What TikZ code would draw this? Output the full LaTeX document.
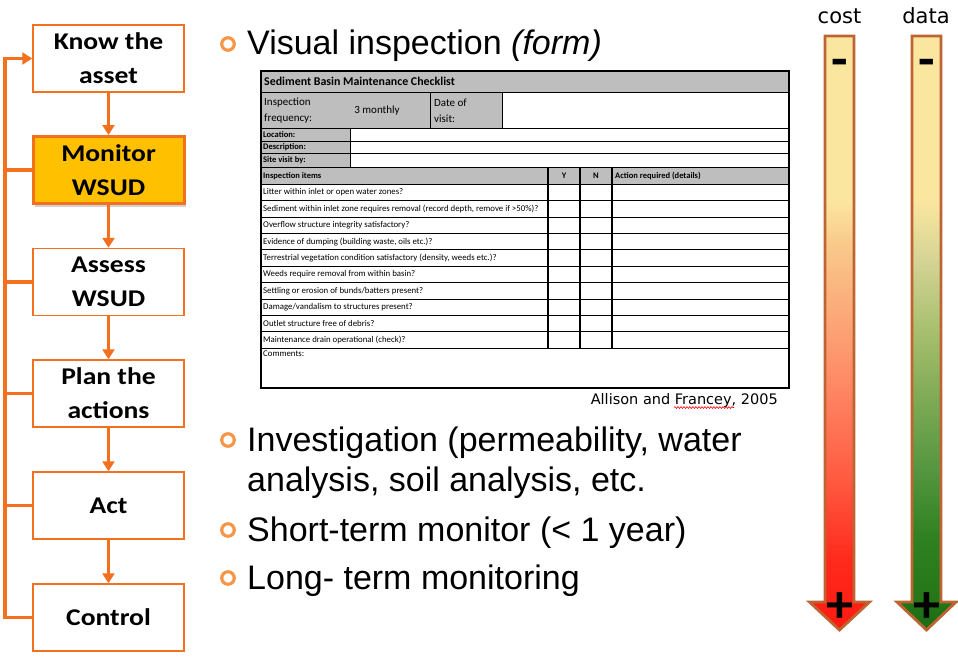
\documentclass[tikz,border=0pt]{standalone}
\usepackage{fontspec}
\setmainfont{Liberation Sans}
\newfontfamily\boxfont[FakeStretch=1.15]{Carlito}
\newfontfamily\tabfont{Carlito}
\newfontfamily\vfont{DejaVu Sans}
\usetikzlibrary{arrows.meta,shadows,decorations.pathmorphing}

\definecolor{flowor}{RGB}{242,112,30}
\definecolor{monfill}{RGB}{255,192,0}
\definecolor{bulor}{RGB}{247,150,70}
\definecolor{tblgray}{RGB}{190,190,190}
\definecolor{barline}{RGB}{190,100,50}
\definecolor{cR}{RGB}{255,26,16}
\definecolor{cR2}{RGB}{255,42,28}
\definecolor{cR3}{RGB}{255,90,64}
\definecolor{cSal}{RGB}{255,129,96}
\definecolor{cOr}{RGB}{252,166,120}
\definecolor{cPea}{RGB}{249,201,138}
\definecolor{cYel}{RGB}{251,230,160}
\definecolor{gA}{RGB}{26,107,18}
\definecolor{gB}{RGB}{36,118,24}
\definecolor{gC}{RGB}{46,128,32}
\definecolor{gD}{RGB}{85,150,64}
\definecolor{gE}{RGB}{126,170,85}
\definecolor{gF}{RGB}{168,192,112}
\definecolor{gG}{RGB}{212,212,148}

\pgfdeclareverticalshading{costsh}{100bp}{color(0bp)=(cR); color(25bp)=(cR); color(30.9bp)=(cR2); color(37.6bp)=(cR3); color(44.4bp)=(cSal); color(51.1bp)=(cOr); color(57.4bp)=(cPea); color(61.2bp)=(cYel); color(100bp)=(cYel)}
\pgfdeclareverticalshading{datash}{100bp}{color(0bp)=(gA); color(25bp)=(gA); color(27.5bp)=(gB); color(32.6bp)=(gC); color(38.5bp)=(gD); color(44.4bp)=(gE); color(50.3bp)=(gF); color(56.1bp)=(gG); color(61.2bp)=(cYel); color(100bp)=(cYel)}

\begin{document}
\begin{tikzpicture}[x=1pt,y=-1pt,
  flowbox/.style={draw=flowor, line width=1.5pt, fill=white, minimum width=151pt, minimum height=67pt,
    inner sep=0pt, align=center, font=\boxfont\bfseries\fontsize{24}{34}\selectfont},
  hotbox/.style={flowbox, fill=monfill, line width=3pt,
    drop shadow={opacity=0.35, shadow xshift=2pt, shadow yshift=-3pt}},
  flowarrow/.style={draw=flowor, line width=3.5pt, -{Triangle[width=12pt,length=10pt]}},
  loopline/.style={draw=flowor, line width=3.5pt},
  ring/.style={circle, draw=bulor, line width=3.2pt, minimum size=12.5pt, inner sep=0pt},
  btext/.style={anchor=base west, inner sep=0pt, font=\fontsize{34}{40}\selectfont},
  tcell/.style={anchor=west, inner sep=0pt, font=\tabfont\fontsize{8.8}{10}\selectfont},
  tlabel/.style={anchor=west, inner sep=0pt, font=\tabfont\bfseries\fontsize{8.5}{10}\selectfont},
  barlabel/.style={anchor=base, inner sep=0pt, font=\vfont\fontsize{21}{24}\selectfont},
  sign/.style={inner sep=0pt, font=\tabfont\bfseries\fontsize{54}{54}\selectfont},
  barshape/.style={draw=barline, line width=2.8pt, line join=miter}
]
\useasboundingbox[fill=white] (0,0) rectangle (958,664);

% ---------- flow on the left ----------
\node[flowbox] (b1) at (108.5,58.5) {Know the\\asset};
\node[hotbox]  (b2) at (108.5,170) {Monitor\\WSUD};
\node[flowbox] (b3) at (108.5,282) {Assess\\WSUD};
\node[flowbox] (b4) at (108.5,393.5) {Plan the\\actions};
\node[flowbox] (b5) at (108.5,505.5) {Act};
\node[flowbox] (b6) at (108.5,617.5) {Control};

\draw[flowarrow] (b1.south) -- (b2.north);
\draw[flowarrow] (b2.south) -- (b3.north);
\draw[flowarrow] (b3.south) -- (b4.north);
\draw[flowarrow] (b4.south) -- (b5.north);
\draw[flowarrow] (b5.south) -- (b6.north);

\coordinate (lx) at (5,0);
\draw[loopline, -{Triangle[width=12pt,length=10pt]}, line join=miter] (b6.west) -- (b6.west -| lx) |- (b1.west);
\draw[loopline] (b2.west) -- (b2.west -| lx);
\draw[loopline] (b3.west) -- (b3.west -| lx);
\draw[loopline] (b4.west) -- (b4.west -| lx);
\draw[loopline] (b5.west) -- (b5.west -| lx);

% ---------- bullets ----------
\node[ring] (r1) at (228,44) {};
\node[btext] (t1) at (247,54) {Visual inspection \textit{(form)}};
\node[ring] (r2) at (228,440) {};
\node[btext] (t2) at (247,451) {Investigation (permeability, water};
\node[btext] (t2b) at (247,491) {analysis, soil analysis, etc.};
\node[ring] (r3) at (228,530) {};
\node[btext] (t3) at (247,541) {Short-term monitor (< 1 year)};
\node[ring] (r4) at (228,578) {};
\node[btext] (t4) at (247,589) {Long- term monitoring};

% ---------- checklist table ----------
\fill[tblgray] (261,71) rectangle (789,92);
\fill[tblgray] (261,92) rectangle (502,128);
\fill[tblgray] (261,128) rectangle (350,167);
\fill[tblgray] (261,167) rectangle (789,184.5);
\draw[line width=0.9pt] (261,92) -- (789,92);
\draw[line width=0.9pt] (261,128) -- (789,128);
\draw[line width=0.6pt] (261,141) -- (789,141);
\draw[line width=0.6pt] (261,153) -- (789,153);
\draw[line width=0.9pt] (261,167) -- (789,167);
\draw[line width=0.9pt] (430,92) -- (430,128);
\draw[line width=0.9pt] (502,92) -- (502,128);
\draw[line width=0.6pt] (350,128) -- (350,167);
\foreach \k in {0,...,10} {\draw[line width=0.9pt] (261,{184.5+16.35*\k}) -- (789,{184.5+16.35*\k});}
\draw[line width=1.2pt] (548,167) -- (548,348);
\draw[line width=1.2pt] (580,167) -- (580,348);
\draw[line width=1.2pt] (612,167) -- (612,348);
\draw[line width=1.4pt] (261,71) rectangle (789,388);

\node[anchor=west, inner sep=0pt, font=\tabfont\bfseries\fontsize{11.9}{13}\selectfont] (ttl) at (264,81.5) {Sediment Basin Maintenance Checklist};
\node[anchor=west, inner sep=0pt, align=left, font=\tabfont\fontsize{11}{16}\selectfont] (freq) at (264,111) {Inspection\\frequency:};
\node[inner sep=0pt, font=\tabfont\fontsize{11}{12}\selectfont] (mon) at (377,111) {3 monthly};
\node[anchor=west, inner sep=0pt, align=left, font=\tabfont\fontsize{11}{16}\selectfont] (dov) at (434,111) {Date of\\visit:};
\node[tlabel] (loc) at (263,134.5) {Location:};
\node[tlabel] (desc) at (263,147) {Description:};
\node[tlabel] (site) at (263,160) {Site visit by:};
\node[tlabel] (hd) at (263,176) {Inspection items};
\node[inner sep=0pt, font=\tabfont\bfseries\fontsize{8.5}{10}\selectfont] (hy) at (564,176) {Y};
\node[inner sep=0pt, font=\tabfont\bfseries\fontsize{8.5}{10}\selectfont] (hn) at (596,176) {N};
\node[tlabel] (ha) at (615,176) {Action required (details)};
\foreach \i/\t in {
  1/{Litter within inlet or open water zones?},
  2/{Sediment within inlet zone requires removal (record depth, remove if >50\%)?},
  3/{Overflow structure integrity satisfactory?},
  4/{Evidence of dumping (building waste, oils etc.)?},
  5/{Terrestrial vegetation condition satisfactory (density, weeds etc.)?},
  6/{Weeds require removal from within basin?},
  7/{Settling or erosion of bunds/batters present?},
  8/{Damage/vandalism to structures present?},
  9/{Outlet structure free of debris?},
  10/{Maintenance drain operational (check)?}}
  {\node[tcell] (item\i) at (263,{184.5+16.35*\i-8.2}) {\t};}
\node[tcell] (cmt) at (263,354) {Comments:};

\node[anchor=base east, inner sep=0pt, font=\vfont\fontsize{14.5}{16}\selectfont] (src) at (778,404) {Allison and Francey, 2005};
\draw[red, line width=0.6pt, decorate, decoration={snake, amplitude=0.9pt, segment length=3pt}] (674,407.5) -- (734,407.5);

% ---------- cost / data arrows ----------
\node[barlabel] (lcost) at (839.5,23) {cost};
\node[barlabel] (ldata) at (926,23) {data};

\path[shading=costsh] (825,36) -- (854,36) -- (854,602) -- (869.5,602) -- (839.5,630) -- (809.5,602) -- (825,602) -- cycle;
\draw[barshape] (825,36) -- (854,36) -- (854,602) -- (869.5,602) -- (839.5,630) -- (809.5,602) -- (825,602) -- cycle;
\path[shading=datash] (912,36) -- (941,36) -- (941,602) -- (956,602) -- (926.5,630) -- (897,602) -- (912,602) -- cycle;
\draw[barshape] (912,36) -- (941,36) -- (941,602) -- (956,602) -- (926.5,630) -- (897,602) -- (912,602) -- cycle;

\node[sign] (mc) at (839.5,68) {-};
\node[sign] (md) at (926.5,68) {-};
\node[sign] (pc) at (839.5,608) {+};
\node[sign] (pd) at (926.5,608) {+};
\end{tikzpicture}
\end{document}
